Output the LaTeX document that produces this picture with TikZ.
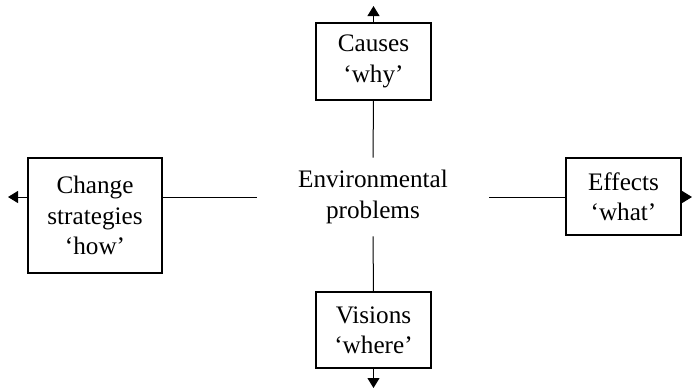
\documentclass[tikz,border=0pt]{standalone}
\usepackage{fontspec}
\setmainfont{Liberation Serif}
\usepackage{tikz}
\usetikzlibrary{
    arrows.meta,
    positioning,
    calc
}
\tikzset{
    % Boxes
    concept box/.style={draw,line width=0.6pt,align=center,inner sep=0pt},
    centre box/.style={inner sep=0pt,align=center,minimum width=116pt,minimum height=39pt},
    %
    % Arrows
    arrow tip/.tip={Triangle[length=5pt,width=6pt]},
    arr/.style={-{arrow tip},line width=0.5pt},
    link/.style={line width=0.5pt}
}
\tikzstyle{every node}=[font=\fontsize{12.6}{15.2}\selectfont]

\begin{document}
\begin{tikzpicture}[x=0.5pt,y=-0.5pt]
        \useasboundingbox (0,0) rectangle (692,388);
        \node[centre box] (env) at (373,197) {Environmental\\problems};
        \node[concept box,minimum width=57.5pt,minimum height=38.5pt] (causes) at (373.5,61.5) {Causes\\‘why’};
        \node[concept box,minimum width=67pt,minimum height=57.5pt] (change) at (95,215.5) {Change\\strategies\\‘how’};
        \node[concept box,minimum width=57.5pt,minimum height=38.5pt] (effects) at (623.5,196.5) {Effects\\‘what’};
        \node[concept box,minimum width=57.5pt,minimum height=38pt] (visions) at (373.5,330) {Visions\\‘where’};
        
        \coordinate (up) at (373.5,6);
        \coordinate (down) at (373.5,388);
        \coordinate (left) at (8,197);
        \coordinate (right) at (692,197);
        
        \draw[link] (env.north) -- (causes.south);
        \draw[link] (env.south) -- (visions.north);
        \draw[link] (env.west) -- (env.west -| change.east);
        \draw[link] (env.east) -- (env.east -| effects.west);
        
        \draw[arr] (causes.north) -- (up);
        \draw[arr] (visions.south) -- (down);
        \draw[arr] (env.west -| change.west) -- (left);
        \draw[arr] (env.east -| effects.east) -- (right);
    \end{tikzpicture}
\end{document}
